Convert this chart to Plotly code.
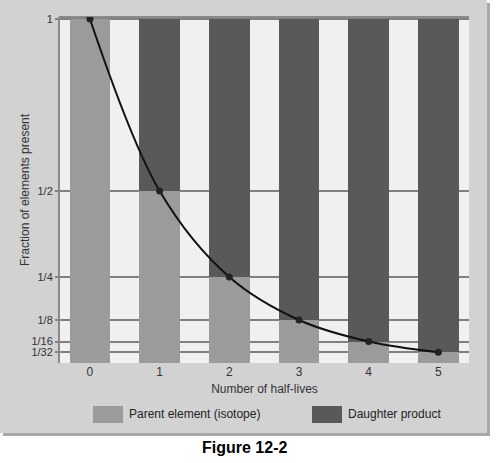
import plotly.graph_objects as go

half_lives = [0, 1, 2, 3, 4, 5]
parent_fraction = [1, 1/2, 1/4, 1/8, 1/16, 1/32]
daughter_fraction = [0, 1/2, 3/4, 7/8, 15/16, 31/32]
tick_vals = [1, 1/2, 1/4, 1/8, 1/16, 1/32]
tick_text = ["1", "1/2", "1/4", "1/8", "1/16", "1/32"]
series_names = ["Parent element (isotope)", "Daughter product"]

PARENT = "#9b9b9b"
DAUGHTER = "#595959"
W, H = 504, 463
FONT = "Liberation Sans, Arial, sans-serif"

L, R, T, B = 60, 35, 17, 100
PW = W - L - R
PH = H - T - B

def px(x):
    return (x - L) / PW

def py(y):
    return (H - B - y) / PH

fig = go.Figure()
fig.add_trace(go.Bar(x=half_lives, y=parent_fraction, name=series_names[0],
                     marker=dict(color=PARENT, line=dict(width=0)), width=0.58))
fig.add_trace(go.Bar(x=half_lives, y=daughter_fraction, name=series_names[1],
                     marker=dict(color=DAUGHTER, line=dict(width=0)), width=0.58))
fig.add_trace(go.Scatter(x=half_lives, y=parent_fraction, mode="lines+markers",
                         line=dict(color="#111111", width=2, shape="spline", smoothing=1.0),
                         marker=dict(color="#222222", size=7), showlegend=False))

shapes = [
    # outer panel shadow
    dict(type="rect", xref="paper", yref="paper", x0=px(3), x1=px(490), y0=py(436), y1=py(3),
         fillcolor="#a8a8a8", line=dict(width=0), layer="below"),
    # outer panel
    dict(type="rect", xref="paper", yref="paper", x0=px(0), x1=px(487), y0=py(433), y1=py(0),
         fillcolor="#d2d2d2", line=dict(width=0), layer="below"),
    # plot background
    dict(type="rect", xref="paper", yref="paper", x0=0, x1=1, y0=0, y1=1,
         fillcolor="#f0f0f0", line=dict(width=0), layer="below"),
    # top border line
    dict(type="line", xref="paper", yref="paper", x0=px(L - 1), x1=1, y0=1, y1=1,
         line=dict(color="#8a8a8a", width=2), layer="below"),
    # legend swatches
    dict(type="rect", xref="paper", yref="paper", x0=px(93), x1=px(123), y0=py(423), y1=py(406),
         fillcolor=PARENT, line=dict(width=0)),
    dict(type="rect", xref="paper", yref="paper", x0=px(312), x1=px(342), y0=py(423), y1=py(406),
         fillcolor=DAUGHTER, line=dict(width=0)),
]

annotations = [
    dict(text=series_names[0], xref="paper", yref="paper", x=px(127), y=py(414),
         xanchor="left", yanchor="middle", showarrow=False, font=dict(size=12, color="#222", family=FONT)),
    dict(text=series_names[1], xref="paper", yref="paper", x=px(346), y=py(414),
         xanchor="left", yanchor="middle", showarrow=False, font=dict(size=12, color="#222", family=FONT)),
    dict(text="<b>Figure 12-2</b>", xref="paper", yref="paper", x=px(244), y=py(448),
         xanchor="center", yanchor="middle", showarrow=False, font=dict(size=16, color="#000", family=FONT)),
    dict(text="Fraction of elements present", xref="paper", yref="paper", x=px(25), y=py(190),
         xanchor="center", yanchor="middle", textangle=-90, showarrow=False,
         font=dict(size=12, color="#333", family=FONT)),
]

fig.update_layout(
    width=W, height=H, barmode="stack", bargap=0.42,
    margin=dict(l=L, r=R, t=T, b=B, pad=0),
    paper_bgcolor="white", plot_bgcolor="rgba(0,0,0,0)",
    showlegend=False,
    font=dict(family=FONT, size=11, color="#333"),
    shapes=shapes, annotations=annotations,
    xaxis=dict(range=[-0.43, 5.44], tickvals=half_lives, ticktext=[str(v) for v in half_lives],
               showgrid=False, zeroline=False, showline=False, ticks="",
               tickfont=dict(size=12, color="#333"),
               title=dict(text="Number of half-lives", font=dict(size=12, color="#333"), standoff=6)),
    yaxis=dict(range=[0, 1.0058], tickvals=tick_vals, ticktext=tick_text,
               showgrid=True, gridcolor="#808080", gridwidth=1.5, zeroline=False,
               showline=True, linecolor="#8a8a8a", linewidth=2, ticks="outside",
               ticklen=3, tickcolor="#808080", tickwidth=1.5,
               tickfont=dict(size=11, color="#333")),
)

fig.write_html("out.html")
